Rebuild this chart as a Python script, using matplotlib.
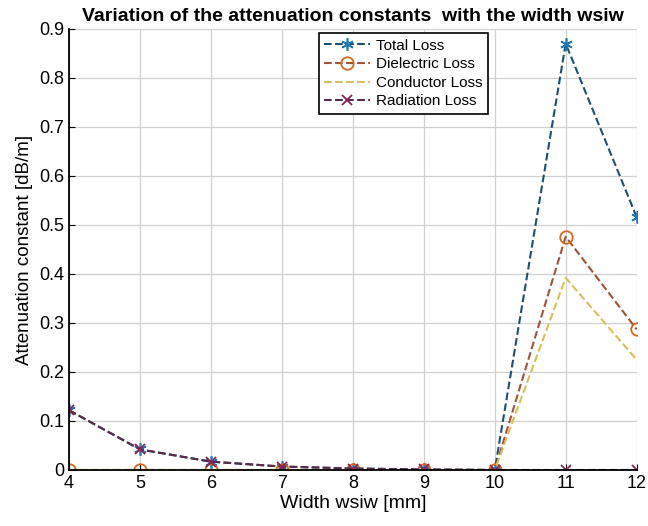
import matplotlib
matplotlib.use("Agg")
import matplotlib.pyplot as plt
import numpy as np

plt.rcParams['font.family'] = ['Liberation Sans', 'DejaVu Sans']

width = [4, 5, 6, 7, 8, 9, 10, 11, 12]
total_loss = [0.122, 0.042, 0.017, 0.007, 0.003, 0.001, 0.0, 0.870, 0.516]
dielectric_loss = [0.0, 0.0, 0.0, 0.0, 0.0, 0.0, 0.0, 0.476, 0.287]
conductor_loss = [0.0, 0.0, 0.0, 0.0, 0.0, 0.0, 0.0, 0.392, 0.225]
radiation_loss = [0.122, 0.042, 0.017, 0.007, 0.003, 0.001, 0.0, 0.0, 0.0]

fig = plt.figure(figsize=(6.48, 5.26), dpi=100)
ax = fig.add_axes([0.1065, 0.1065, 0.876, 0.8385])

asterisk = (6, 2, 0)
ax.plot(width, total_loss, '--', color='#1d4f73', marker=asterisk, markersize=9,
        markeredgecolor='#1f77b4', markerfacecolor='#1f77b4', markeredgewidth=1.2,
        lw=1.5, label='Total Loss')
ax.plot(width, dielectric_loss, '--', color='#a0543a', marker='o', markersize=9,
        markerfacecolor='none', markeredgecolor='#d2691e', markeredgewidth=1.3,
        lw=1.5, label='Dielectric Loss')
ax.plot(width, conductor_loss, '--', color='#d8bd5a', lw=1.5, label='Conductor Loss')
ax.plot(width, radiation_loss, '--', color='#5a2a4a', marker='x', markersize=7,
        markeredgecolor='#8b2252', markeredgewidth=1.3, lw=1.5, label='Radiation Loss')

ax.set_xlim(4, 12)
ax.set_ylim(0, 0.9)
ax.set_xticks(range(4, 13))
ax.set_yticks(np.arange(0, 0.91, 0.1))
ax.set_yticklabels(['0', '0.1', '0.2', '0.3', '0.4', '0.5', '0.6', '0.7', '0.8', '0.9'])
ax.tick_params(direction='in', labelsize=13, length=4)
ax.grid(True, color='#d0d0d0', lw=0.9)
ax.spines['top'].set_visible(False)
ax.spines['right'].set_visible(False)
ax.spines['left'].set_linewidth(1.3)
ax.spines['bottom'].set_linewidth(1.3)

ax.set_title('Variation of the attenuation constants  with the width wsiw',
             fontsize=14, fontweight='bold', pad=6)
ax.set_xlabel('Width wsiw [mm]', fontsize=14, labelpad=2)
ax.set_ylabel('Attenuation constant [dB/m]', fontsize=13.5, labelpad=4)

leg = ax.legend(loc='upper left', bbox_to_anchor=(0.44, 0.99), fontsize=11,
                frameon=True, fancybox=False, edgecolor='black', framealpha=1,
                handlelength=3.0, borderaxespad=0.0, labelspacing=0.3,
                borderpad=0.35, handletextpad=0.4)
leg.get_frame().set_linewidth(1.2)

fig.savefig('out.png', dpi=100)
